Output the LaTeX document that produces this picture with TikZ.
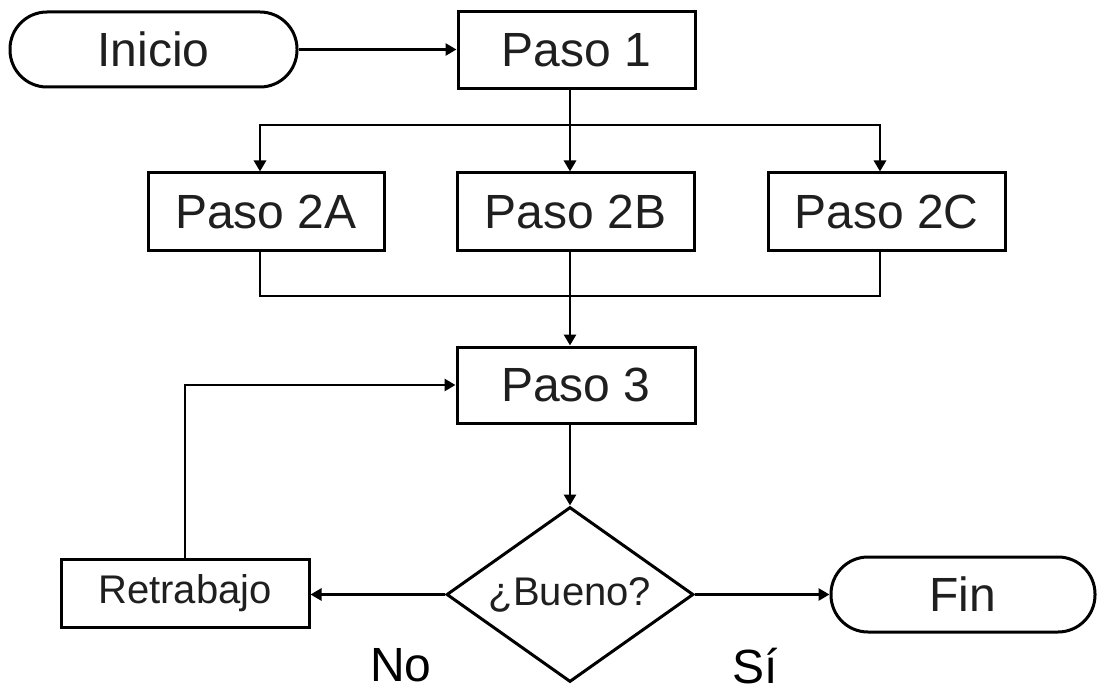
\documentclass[tikz,border=0pt]{standalone}
\usepackage{fontspec}
\setmainfont{Liberation Sans}
\usetikzlibrary{arrows.meta,shapes.geometric}

\tikzset{
  flow/.style={line width=2.8pt, draw=black},
  arr/.style={flow, -{Triangle[length=11pt,width=12pt]}},
  stepbox/.style={draw, line width=3pt, rectangle, inner sep=0pt,
    minimum width=237pt, minimum height=77pt, text=black!88,
    font=\fontsize{48}{50}\selectfont},
  term/.style={draw, line width=3pt, rectangle, rounded corners=37pt,
    inner sep=0pt, minimum height=75pt, text=black!88,
    font=\fontsize{48}{50}\selectfont},
  decision/.style={draw, line width=3pt, diamond, aspect=1.41, inner sep=0pt,
    minimum width=247pt, minimum height=175pt, text=black!88,
    font=\fontsize{40}{42}\selectfont},
  smallbox/.style={draw, line width=3pt, rectangle, inner sep=0pt,
    minimum width=248pt, minimum height=68pt, text=black!88,
    font=\fontsize{40}{42}\selectfont},
  tag/.style={anchor=base, inner sep=0pt, text depth=0pt, text=black,
    font=\fontsize{48}{50}\selectfont}
}

\begin{document}
\begin{tikzpicture}[x=1pt, y=-1pt]
  \useasboundingbox (0,0) rectangle (1098,690);

  % nodes
  \node[term, minimum width=287pt] (inicio) at (153.5,49.5) {Inicio};
  \node[stepbox] (p1)  at (576.5,50.5) {Paso 1};
  \node[stepbox, minimum width=236pt] (p2a) at (266,211.5) {Paso 2A};
  \node[stepbox] (p2b) at (575.5,211.5) {Paso 2B};
  \node[stepbox] (p2c) at (886.5,211.5) {Paso 2C};
  \node[stepbox, minimum width=238pt, minimum height=76pt] (p3) at (576,385) {Paso 3};
  \node[decision] (dec) at (570,594.5) {¿Bueno?};
  \node[smallbox] (retra) at (185,593) {Retrabajo};
  \node[term, minimum width=264pt] (fin) at (963,594.5) {Fin};

  \node[tag] (no) at (401,681) {No};
  \node[tag] (si) at (755,683) {Sí};

  % branch and merge points
  \coordinate (ja) at (260,125);
  \coordinate (jb) at (570,125);
  \coordinate (jc) at (880,125);
  \coordinate (ma) at (260,296);
  \coordinate (mb) at (570,296);
  \coordinate (mc) at (880,296);

  % connectors
  \draw[arr] (inicio.east) -- (inicio.east -| p1.west);
  \draw[arr] (p1.south -| jb) -- (jb |- p2b.north);
  \draw[arr] (jb) -| (ja |- p2a.north);
  \draw[arr] (jb) -| (jc |- p2c.north);
  \draw[flow] (p2a.south -| ma) -- (ma) -- (mc) -- (p2c.south -| mc);
  \draw[arr] (p2b.south -| mb) -- (mb |- p3.north);
  \draw[arr] (p3.south -| dec.north) -- (dec.north);
  \draw[arr] (dec.west) -- (dec.west -| retra.east);
  \draw[arr] (retra.north) |- (p3.west);
  \draw[arr] (dec.east) -- (dec.east -| fin.west);
\end{tikzpicture}
\end{document}
